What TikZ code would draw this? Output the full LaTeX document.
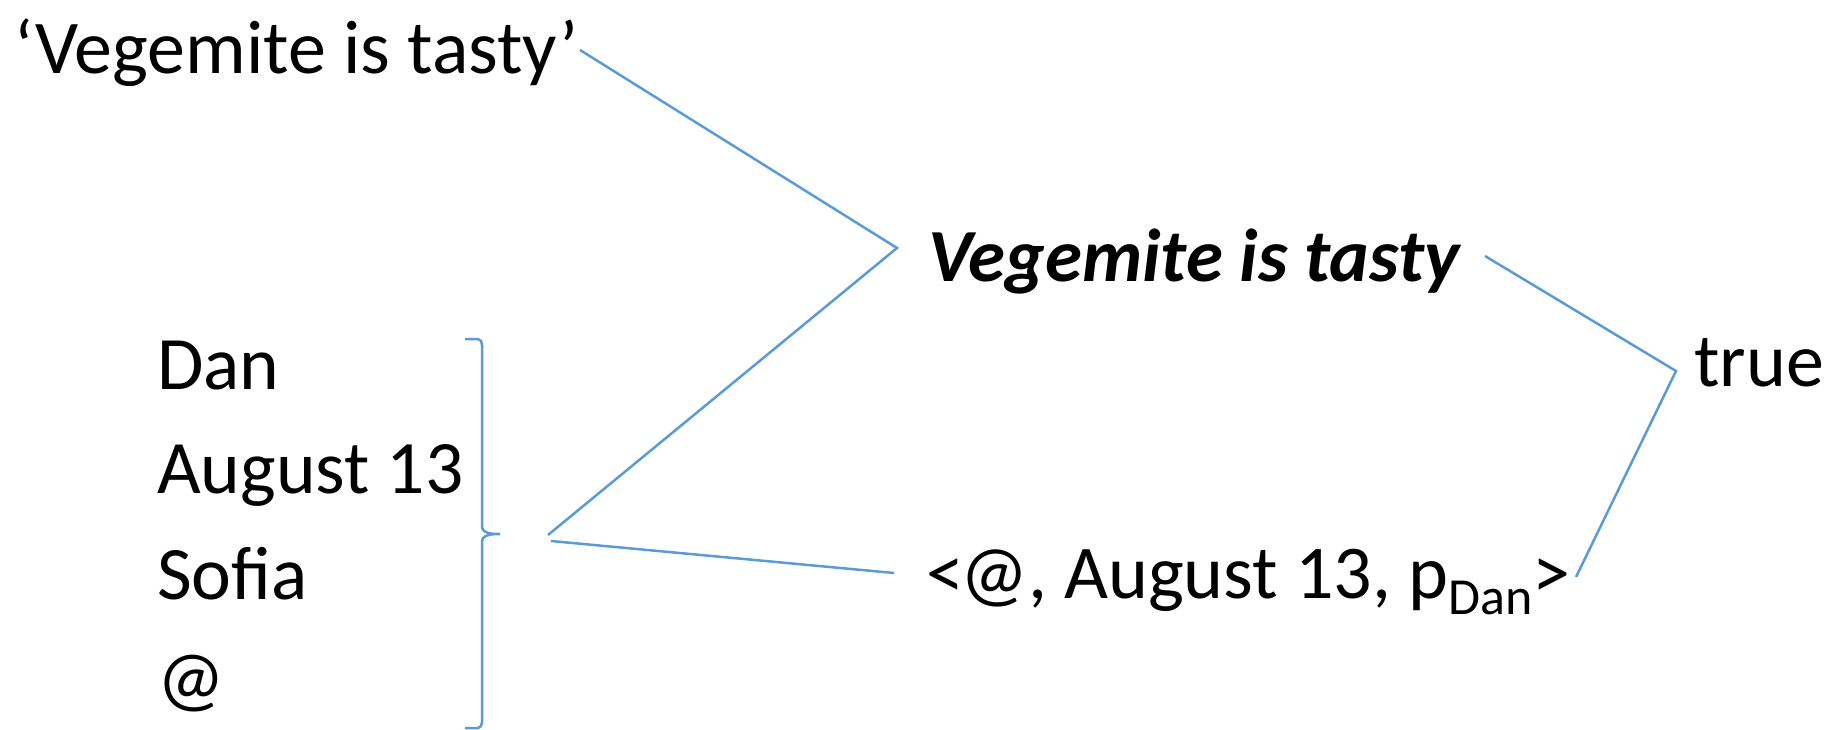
\documentclass[tikz,border=0pt]{standalone}
\usepackage{fontspec}
\setmainfont{Carlito}
\begin{document}
\begin{tikzpicture}[x=1pt,y=-1pt,
  lbl/.style={anchor=base west,inner sep=0pt,font=\fontsize{76}{90}\selectfont},
  lst/.style={anchor=base west,inner sep=0pt,font=\fontsize{75.5}{90}\selectfont},
  conn/.style={draw={rgb,255:red,91;green,155;blue,213},line width=2.5pt}]
\useasboundingbox (0,0) rectangle (1826,730);
\node[lbl] (q) at (14,74) {‘Vegemite is tasty’};
\node[lbl,font=\fontsize{75}{90}\selectfont\bfseries\itshape] (p) at (928,281) {Vegemite is tasty};
\node[lbl] (t) at (1694,386) {true};
\node[lst] (dan) at (157,389) {Dan};
\node[lst] (aug) at (157,493) {August 13};
\node[lst] (sof) at (157,599) {Sofia};
\node[lst] (at) at (157,703) {@};
\node[lbl] (ctx) at (926,598) {<\kern-4pt@, August 13, p\raisebox{-0.22em}{\fontsize{52}{60}\selectfont Dan}>};
\coordinate (q1) at (580,50);
\coordinate (j1) at (897,248);
\coordinate (b1) at (548,535);
\coordinate (b2) at (551,541);
\coordinate (c1) at (894,573);
\coordinate (p1) at (1485,256);
\coordinate (j2) at (1676,371);
\coordinate (c2) at (1576,577);
\coordinate (bt) at (500,534);
\draw[conn] (q1) -- (j1) -- (b1);
\draw[conn] (b2) -- (c1);
\draw[conn] (p1) -- (j2) -- (c2);
\draw[conn] (465,339) -- (478,339) to[out=0,in=90] (482,345) -- (482,526) to[out=-90,in=180] (bt) to[out=180,in=90] (482,542) -- (482,722) to[out=-90,in=0] (478,728) -- (465,728);
\end{tikzpicture}
\end{document}
